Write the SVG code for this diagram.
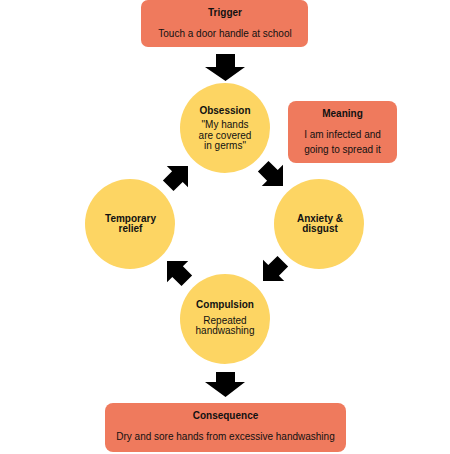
<svg xmlns="http://www.w3.org/2000/svg" width="450" height="454" viewBox="0 0 450 454">
<style>
.box{fill:#EF7A5D}
.circ{fill:#FDD563}
.t{font-family:"Liberation Sans",Arial,sans-serif;font-size:10px;fill:#111;text-anchor:middle}
.b{font-weight:bold}
.arr{fill:#000}
</style>
<defs>
<polygon id="diag" points="0,0 -15,-15 -15,-7.5 -28,-7.5 -28,7.5 -15,7.5 -15,15"/>
</defs>
<rect width="450" height="454" fill="#fff"/>
<g id="connectors" class="arr">
<polygon points="216,54 235,54 235,67 245,67 225.5,81 205,67 216,67"/>
<polygon points="216,372 235,372 235,382 245,382 225.5,397 205,382 216,382"/>
<use href="#diag" transform="translate(283,186) rotate(45)"/>
<use href="#diag" transform="translate(263,281) rotate(135)"/>
<use href="#diag" transform="translate(167,261) rotate(225)"/>
<use href="#diag" transform="translate(188,166) rotate(-45)"/>
</g>
<g id="trigger">
<rect class="box" x="141" y="0" width="167" height="47" rx="7"/>
<text class="t b" x="225" y="16">Trigger</text>
<text class="t" x="225" y="37">Touch a door handle at school</text>
</g>
<g id="obsession">
<circle class="circ" cx="225" cy="128" r="45"/>
<text class="t b" x="225" y="114">Obsession</text>
<text class="t" x="225" y="128">"My hands</text>
<text class="t" x="225" y="139">are covered</text>
<text class="t" x="225" y="149">in germs"</text>
</g>
<g id="meaning">
<rect class="box" x="288" y="101" width="109" height="62" rx="8"/>
<text class="t b" x="342.5" y="117">Meaning</text>
<text class="t" x="342.5" y="138">I am infected and</text>
<text class="t" x="342.5" y="153">going to spread it</text>
</g>
<g id="anxiety">
<circle class="circ" cx="319" cy="224" r="45"/>
<text class="t b" x="320" y="222">Anxiety &amp;</text>
<text class="t b" x="320" y="232">disgust</text>
</g>
<g id="relief">
<circle class="circ" cx="130" cy="224" r="45"/>
<text class="t b" x="130.5" y="222">Temporary</text>
<text class="t b" x="130.5" y="232">relief</text>
</g>
<g id="compulsion">
<circle class="circ" cx="225" cy="319" r="45"/>
<text class="t b" x="225" y="308">Compulsion</text>
<text class="t" x="225" y="324">Repeated</text>
<text class="t" x="225" y="334">handwashing</text>
</g>
<g id="consequence">
<rect class="box" x="105" y="403" width="241" height="49" rx="8"/>
<text class="t b" x="225.5" y="419">Consequence</text>
<text class="t" x="225.5" y="440">Dry and sore hands from excessive handwashing</text>
</g>
</svg>
